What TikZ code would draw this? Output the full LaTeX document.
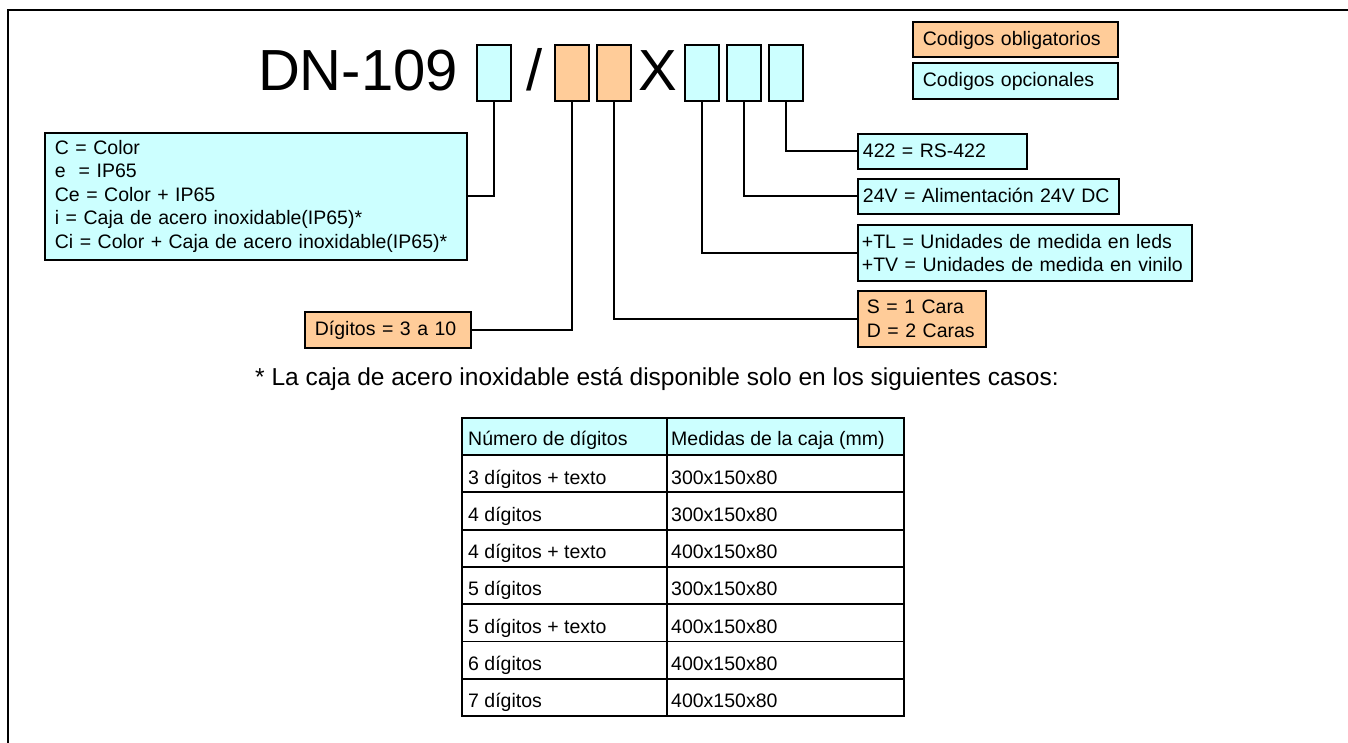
\documentclass[tikz,border=0pt]{standalone}
\usepackage{fontspec}
\setmainfont{Liberation Sans}
\definecolor{optcol}{HTML}{CCFFFF}
\definecolor{reqcol}{HTML}{FFCC99}

\begin{document}
\begin{tikzpicture}[x=1pt,y=-1pt,
    code/.style={draw,line width=1.8pt,minimum width=34pt,minimum height=56pt,anchor=north west,inner sep=0pt},
    opt/.style={fill=optcol},
    req/.style={fill=reqcol},
    desc/.style={draw,line width=1.8pt,anchor=north west,align=left,inner ysep=0pt,font=\fontsize{19.5}{23.5}\selectfont},
    one/.style={text height=15pt,text depth=3pt},
    link/.style={line width=1.8pt},
    cell/.style={anchor=base west,inner sep=0pt,font=\fontsize{19.5}{23.5}\selectfont}]
            \useasboundingbox (0,0) rectangle (1348,743);
            \draw[line width=1.8pt] (1349,10)--(8,10)--(8,744);

            \node[anchor=base,inner sep=0pt,font=\fontsize{58}{60}\selectfont] (dn) at (358,91) {DN-109};
            \node[anchor=base,inner sep=0pt,font=\fontsize{58}{60}\selectfont] (slash) at (534.5,91) {/};
            \node[anchor=base,inner sep=0pt,font=\fontsize{58}{60}\selectfont] (times) at (657.5,91) {X};
            \node[code,opt] (b1) at (476,44) {};
            \node[code,req] (b2) at (554,44) {};
            \node[code,req] (b3) at (596,44) {};
            \node[code,opt] (b4) at (684,44) {};
            \node[code,opt] (b5) at (726,44) {};
            \node[code,opt] (b6) at (768,44) {};

            \node[desc,req,one,inner xsep=10pt,text width=185pt,minimum height=35pt] (oblig) at (912,21) {Codigos obligatorios};
            \node[desc,opt,one,inner xsep=10pt,text width=185pt,minimum height=36pt] (opcion) at (912,62) {Codigos opcionales};

            \node[desc,opt,inner xsep=10pt,text width=402pt,minimum height=127pt] (color) at (44,132)
                {C = Color\\e \ = IP65\\Ce = Color + IP65\\i = Caja de acero inoxidable(IP65)*\\Ci = Color + Caja de acero inoxidable(IP65)*};
            \node[desc,req,one,inner xsep=10pt,text width=146pt,minimum height=36pt] (digitos) at (304,311) {Dígitos = 3 a 10};
            \node[desc,req,inner xsep=9pt,text width=110pt,minimum height=56pt] (caras) at (857,290) {S = 1 Cara\\D = 2 Caras};
            \node[desc,opt,inner xsep=4pt,text width=326pt,minimum height=56pt] (unid) at (857,224)
                {+TL = Unidades de medida en leds\\+TV = Unidades de medida en vinilo};
            \node[desc,opt,one,inner xsep=5pt,text width=251pt,minimum height=35pt] (alim) at (857,178) {24V = Alimentación 24V DC};
            \node[desc,opt,one,inner xsep=5pt,text width=159pt,minimum height=35pt] (rs) at (857,133) {422 = RS-422};

            \draw[link] (b1.south) |- (color.east);
            \draw[link] (b2.south) |- (digitos.east);
            \draw[link] (b3.south) |- (caras.west);
            \draw[link] (b4.south) |- (unid.west);
            \draw[link] (b5.south) |- (alim.west);
            \draw[link] (b6.south) |- (rs.west);

            \node[anchor=base west,inner sep=0pt,font=\fontsize{24.5}{28}\selectfont] (nota) at (255,385)
                {* La caja de acero inoxidable está disponible solo en los siguientes casos:};

            \fill[optcol] (462,418) rectangle (904,455);
            \node[cell] (h1) at (468,445) {Número de dígitos};
            \node[cell] (h2) at (671,445) {Medidas de la caja (mm)};
            \foreach \a/\b [count=\i] in {3 dígitos + texto/300x150x80, 4 dígitos/300x150x80, 4 dígitos + texto/400x150x80,
                    5 dígitos/300x150x80, 5 dígitos + texto/400x150x80, 6 dígitos/400x150x80, 7 dígitos/400x150x80}{
                \node[cell] (d\i) at (468,{455+37.3*(\i-1)+29}) {\a};
                \node[cell] (m\i) at (671,{455+37.3*(\i-1)+29}) {\b};
            }
            \foreach \i in {2,...,7}
                \draw[line width=1.8pt] (462,{455+37.3*(\i-1)})--(904,{455+37.3*(\i-1)});
            \draw[line width=1.8pt] (667,418)--(667,716);
            \draw[line width=2.8pt] (462,455)--(904,455);
            \draw[line width=2.8pt] (462,418) rectangle (904,716);
        \end{tikzpicture}
\end{document}
